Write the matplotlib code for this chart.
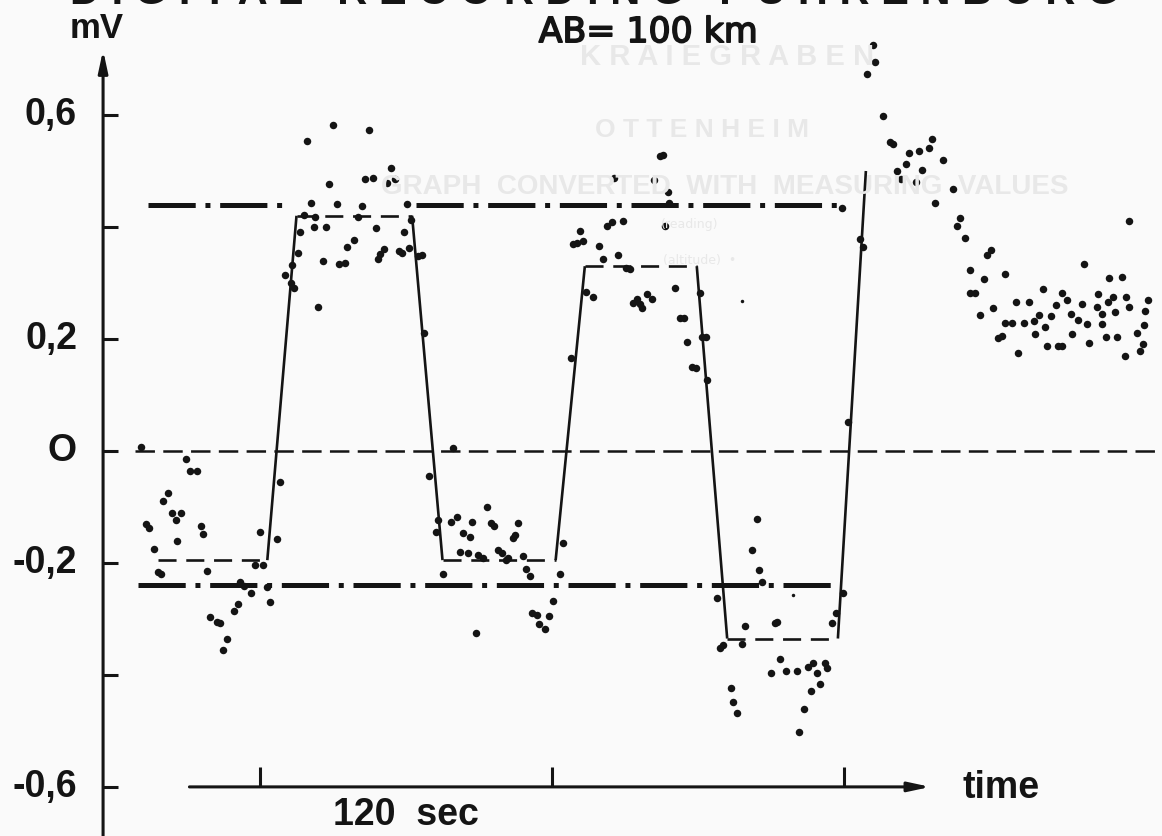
import matplotlib
matplotlib.use('Agg')
import matplotlib.pyplot as plt
import matplotlib.patheffects as pe

plt.rcParams['lines.scale_dashes'] = False

# ------------------------------------------------------------------
# data (time in seconds, voltage in mV)
# ------------------------------------------------------------------
# modelled square wave: corner points
wave_t = [78, 123, 135, 182.5, 195, 241.5, 253.5, 299.5, 312, 357.5, 369]
wave_v = [-0.195, -0.195, 0.42, 0.42, -0.195, -0.195, 0.33, 0.33,
          -0.335, -0.335, 0.50]

# dash-dot reference levels
upper_level = 0.44
upper_spans = [(74, 132), (184, 359.5)]
lower_level = -0.24
lower_spans = [(70, 357.5)]
zero_span = (68.5, 491)

# measured values
meas_t = [71.1, 89.6, 91.2, 94.1, 82.2, 80.1, 83.8, 87.5, 85.5, 73.1,
          74.4, 95.8, 96.6, 85.9, 76.4, 120.0, 127.0, 128.2, 117.9, 121.2,
          78.1, 79.3, 98.2, 111.8, 113.4, 116.3, 122.9, 124.1, 111.0, 109.3,
          99.5, 102.3, 103.6, 106.4, 104.8,
          150.0, 164.8, 139.3, 173.8, 163.2, 166.4, 172.2, 175.5, 148.4, 141.0,
          151.6, 161.9, 180.4, 138.1, 142.6, 160.3, 136.4, 142.2, 147.1, 167.7,
          179.2, 182.0, 158.6, 155.8, 135.6, 133.1, 145.9, 152.5, 154.9, 170.9,
          169.3, 168.5, 177.1, 178.4, 184.9, 186.6, 181.2, 130.3, 132.7, 134.0,
          143.8, 187.4,
          199.3,
          189.5, 192.3, 193.2, 198.5, 201.0, 207.1, 213.3, 214.9, 216.2, 203.4,
          206.3, 226.0, 224.8, 224.0, 202.2, 205.5, 209.6, 211.7, 217.8, 219.5,
          221.9, 221.1, 228.1, 244.5, 195.2, 229.3, 230.9, 243.3, 240.4, 231.8,
          233.8, 238.8, 234.6, 237.1, 208.8,
          284.4, 285.6, 265.5, 281.9, 287.7, 288.1, 286.4, 251.5, 248.6, 250.2,
          252.7, 262.6, 264.7, 269.2, 259.3, 267.1, 260.9, 270.4, 272.0, 253.9,
          256.8, 273.3, 274.9, 277.0, 279.0, 281.1, 276.1, 290.5, 300.8, 292.6,
          294.2, 301.6, 303.3, 295.5, 297.5, 299.2, 303.7, 247.8,
          324.2, 322.2, 325.0, 326.3, 307.8, 319.3, 332.4, 331.6, 355.1, 356.7,
          359.6, 309.0, 310.3, 318.1, 333.7, 330.0, 336.2, 340.7, 345.2, 347.2,
          348.9, 352.2, 353.0, 350.1, 346.4, 313.5, 314.4, 316.0, 343.5, 341.5,
          361.6, 366.6, 367.8, 359.2, 371.9, 372.7, 369.4, 376.0, 378.9, 380.1,
          396.2, 394.9, 390.8, 386.7, 385.5, 392.0, 400.7, 381.8, 383.4, 389.6,
          404.8, 397.4, 407.7, 406.4, 409.7, 420.4, 418.8, 411.8, 417.5, 426.2,
          411.8, 413.8, 415.9, 421.2, 426.2, 429.0, 423.3, 424.9, 431.5, 430.7,
          436.0, 434.0, 438.5, 438.1, 440.1, 441.8, 442.6, 443.4, 445.1, 447.1,
          447.9, 449.6, 449.6, 451.6, 453.3, 453.7, 456.2, 457.8, 458.6, 459.9,
          460.7, 464.0, 464.4, 466.0, 466.0, 467.7, 468.9, 468.5, 470.5, 471.4,
          472.2, 474.2, 475.9, 477.1, 475.5, 477.1, 480.4, 481.6, 482.9, 483.3,
          483.7, 484.9]
meas_v = [0.007, -0.014, -0.036, -0.036, -0.075, -0.089, -0.111, -0.111, -0.123, -0.130,
          -0.138, -0.134, -0.148, -0.161, -0.175, -0.145, -0.157, -0.055, -0.204, -0.204,
          -0.216, -0.220, -0.214, -0.234, -0.241, -0.254, -0.243, -0.270, -0.273, -0.286,
          -0.296, -0.305, -0.307, -0.336, -0.355,
          0.582, 0.573, 0.554, 0.505, 0.486, 0.488, 0.479, 0.486, 0.477, 0.443,
          0.441, 0.438, 0.441, 0.421, 0.418, 0.418, 0.391, 0.400, 0.400, 0.398,
          0.391, 0.413, 0.377, 0.364, 0.354, 0.332, 0.339, 0.334, 0.336, 0.361,
          0.352, 0.343, 0.357, 0.354, 0.348, 0.350, 0.363, 0.314, 0.300, 0.291,
          0.257, 0.211,
          0.005,
          -0.045, -0.145, -0.123, -0.127, -0.118, -0.127, -0.100, -0.129, -0.134, -0.146,
          -0.154, -0.129, -0.150, -0.155, -0.180, -0.182, -0.186, -0.191, -0.177, -0.182,
          -0.191, -0.195, -0.188, -0.164, -0.220, -0.211, -0.223, -0.220, -0.268, -0.289,
          -0.293, -0.295, -0.309, -0.318, -0.325,
          0.527, 0.529, 0.488, 0.484, 0.463, 0.443, 0.402, 0.393, 0.370, 0.371,
          0.375, 0.402, 0.409, 0.411, 0.366, 0.350, 0.343, 0.327, 0.325, 0.284,
          0.275, 0.264, 0.271, 0.255, 0.280, 0.271, 0.263, 0.291, 0.282, 0.238,
          0.238, 0.204, 0.204, 0.195, 0.150, 0.148, 0.127, 0.166,
          -0.121, -0.177, -0.213, -0.234, -0.263, -0.313, -0.305, -0.307, -0.307, -0.289,
          -0.254, -0.352, -0.346, -0.345, -0.371, -0.396, -0.393, -0.393, -0.386, -0.379,
          -0.396, -0.379, -0.388, -0.416, -0.429, -0.423, -0.448, -0.468, -0.461, -0.502,
          0.052, 0.379, 0.364, 0.434, 0.725, 0.695, 0.673, 0.598, 0.552, 0.548,
          0.557, 0.541, 0.536, 0.532, 0.513, 0.502, 0.520, 0.500, 0.486, 0.480,
          0.468, 0.443, 0.416, 0.402, 0.380, 0.359, 0.350, 0.323, 0.307, 0.316,
          0.282, 0.282, 0.243, 0.255, 0.229, 0.229, 0.202, 0.205, 0.175, 0.266,
          0.266, 0.229, 0.209, 0.232, 0.243, 0.289, 0.221, 0.188, 0.241, 0.261,
          0.188, 0.188, 0.282, 0.270, 0.245, 0.209, 0.234, 0.263, 0.334, 0.227,
          0.193, 0.257, 0.280, 0.245, 0.227, 0.204, 0.309, 0.266, 0.275, 0.248,
          0.204, 0.311, 0.275, 0.257, 0.170, 0.411, 0.211, 0.179, 0.191, 0.225,
          0.250, 0.270]

# tiny specks
speck_t = [318.1, 339.0]
speck_v = [0.268, -0.257]

ytick_vals = [0.6, 0.4, 0.2, 0.0, -0.2, -0.4, -0.6]
ytick_text = {0.6: '0,6', 0.2: '0,2', 0.0: 'O', -0.2: '-0,2', -0.6: '-0,6'}
xtick_vals = [120, 240, 360]

yaxis_t = 55.5
time_axis = (91, 395.5, -0.6)

INK = '#141414'
GHOST = '#e8e8e8'
LABEL_FONT = ['Liberation Sans', 'DejaVu Sans']

fig = plt.figure(figsize=(11.62, 8.36), dpi=100, facecolor='#fafafa')
ax = fig.add_axes([0, 0, 1, 1])
ax.set_facecolor('#fafafa')
ax.set_xlim(13.14, 490.7)
ax.set_ylim(-0.6877, 0.8054)
ax.axis('off')

# faint show-through from the other side of the page
ax.text(311.9, 0.704, 'K R A I E G R A B E N', color=GHOST, fontsize=21,
        fontweight='bold', ha='center', va='center', family=LABEL_FONT)
ax.text(301.7, 0.573, 'O T T E N H E I M', color=GHOST, fontsize=19,
        fontweight='bold', ha='center', va='center', family=LABEL_FONT)
ax.text(311.1, 0.471, 'GRAPH  CONVERTED  WITH  MEASURING  VALUES', color=GHOST,
        fontsize=20, fontweight='bold', ha='center', va='center', family=LABEL_FONT)
ax.text(296.7, 0.404, '(reading)', color=GHOST, fontsize=9,
        ha='center', va='center')
ax.text(300.8, 0.341, '(altitude)  \u2022', color=GHOST, fontsize=9,
        ha='center', va='center')

# partly cut heading at the very top
ax.text(42, 0.7975, 'D I G I T A L   R E C O R D I N G   F U H R E N B U R G',
        color=INK, fontsize=30, fontweight='bold', ha='left', va='baseline',
        family=LABEL_FONT)

# zero line
ax.plot(zero_span, [0, 0], color=INK, lw=1.8, dashes=(14, 6))

# dash-dot levels
for a, b in upper_spans:
    ax.plot([a, b], [upper_level] * 2, color=INK, lw=3.6,
            dashes=(34, 7, 3.6, 7))
for a, b in lower_spans:
    ax.plot([a, b], [lower_level] * 2, color=INK, lw=3.6,
            dashes=(34, 7, 3.6, 7))

# square wave: flat parts dashed, ramps solid
for i in range(len(wave_t) - 1):
    seg_t = wave_t[i:i + 2]
    seg_v = wave_v[i:i + 2]
    if seg_v[0] == seg_v[1]:
        ax.plot(seg_t, seg_v, color=INK, lw=1.9, dashes=(13, 7))
    else:
        ax.plot(seg_t, seg_v, color=INK, lw=1.9, solid_capstyle='butt')

# measured points
ax.plot(meas_t, meas_v, 'o', color=INK, ms=5.4, mec='none')
ax.plot(speck_t, speck_v, 'o', color=INK, ms=2.5, mec='none')

# voltage axis with arrow
ax.annotate('', xy=(yaxis_t, 0.716), xytext=(yaxis_t, -0.70),
            arrowprops=dict(arrowstyle='-|>,head_length=1.3,head_width=0.28',
                            color=INK, lw=2.2, shrinkA=0, shrinkB=0))
for v in ytick_vals:
    ax.plot([yaxis_t, yaxis_t + 6.3], [v, v], color=INK, lw=2.2,
            solid_capstyle='butt')
    if v in ytick_text:
        ax.text(44.8, v, ytick_text[v], color=INK, fontsize=27,
                fontweight='bold', ha='right', va='center', family=LABEL_FONT)
ax.text(53.0, 0.755, 'mV', color=INK, fontsize=25, fontweight='bold',
        ha='center', va='center', family=LABEL_FONT)
ax.text(279.5, 0.748, 'AB= 100 km', color=INK, fontsize=25,
        ha='center', va='center',
        path_effects=[pe.withStroke(linewidth=1.2, foreground=INK)])

# time axis with arrow
t0, t1, tv = time_axis
ax.annotate('', xy=(t1, tv), xytext=(t0, tv),
            arrowprops=dict(arrowstyle='-|>,head_length=1.3,head_width=0.28',
                            color=INK, lw=2.2, shrinkA=0, shrinkB=0))
for t in xtick_vals:
    ax.plot([t, t], [tv, tv + 0.036], color=INK, lw=2.2, solid_capstyle='butt')
ax.text(180.0, -0.65, '120  sec', color=INK, fontsize=27, fontweight='bold',
        ha='center', va='center', family=LABEL_FONT)
ax.text(408.9, -0.602, 'time', color=INK, fontsize=27, fontweight='bold',
        ha='left', va='center', family=LABEL_FONT)

fig.savefig('out.png', dpi=100, facecolor=fig.get_facecolor())
